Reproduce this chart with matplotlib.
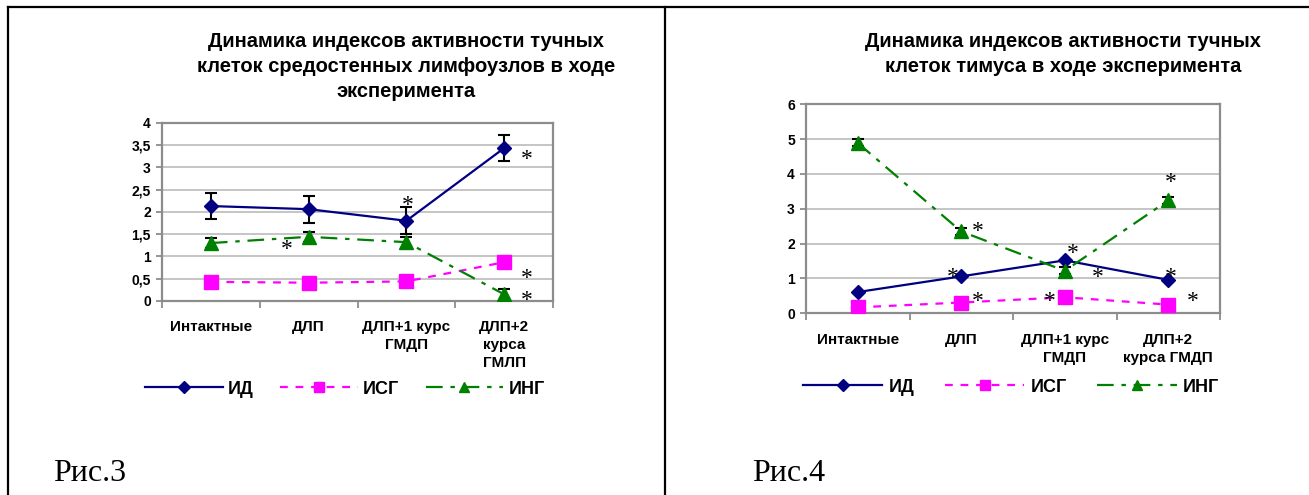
import matplotlib.pyplot as plt
from matplotlib.lines import Line2D
from matplotlib.ticker import FuncFormatter

plt.rcParams['font.family'] = ['Liberation Sans', 'DejaVu Sans']

# categories
groups_lymph = ['Интактные', 'ДЛП', 'ДЛП+1 курс\nГМДП', 'ДЛП+2\nкурса\nГМЛП']
groups_thymus = ['Интактные', 'ДЛП', 'ДЛП+1 курс\nГМДП', 'ДЛП+2\nкурса ГМДП']
series_names = ['ИД', 'ИСГ', 'ИНГ']

# Рис.3 - mediastinal lymph nodes
lymph_id = [2.13, 2.06, 1.80, 3.43]
lymph_id_err = [0.30, 0.30, 0.30, 0.30]
lymph_isg = [0.43, 0.41, 0.44, 0.87]
lymph_ing = [1.30, 1.44, 1.32, 0.15]
lymph_ing_err = [0.11, 0.11, 0.12, 0.12]

# Рис.4 - thymus
thymus_id = [0.61, 1.06, 1.52, 0.96]
thymus_isg = [0.17, 0.31, 0.46, 0.25]
thymus_ing = [4.89, 2.35, 1.22, 3.24]
thymus_ing_err = [0.10, 0.10, 0.10, 0.10]

# significance marks (category position, value)
stars_lymph = [(3.23, 3.34), (2.01, 2.29), (0.78, 1.32), (3.23, 0.67), (3.23, 0.16)]
stars_thymus = [(1.16, 2.54), (2.08, 1.91), (2.32, 1.22), (3.02, 3.97), (0.92, 1.22),
                (3.02, 1.24), (1.16, 0.53), (1.86, 0.53), (3.24, 0.53)]

NAVY = '#000080'
MAGENTA = '#FF00FF'
GREEN = '#008000'
GRID = '#c0c0c0'
SPINE = '#8c8c8c'

W, H = 1309, 495
fig = plt.figure(figsize=(W / 100, H / 100), dpi=100)


def px_rect(x0, y0, x1, y1):
    return [x0 / W, 1 - y1 / H, (x1 - x0) / W, (y1 - y0) / H]


def draw_chart(ax, groups, s_id, s_isg, s_ing, id_err, ing_err, ymax, ystep, stars):
    x = list(range(len(groups)))
    ax.set_xlim(-0.5, len(groups) - 0.5)
    ax.set_ylim(0, ymax)

    ax.set_yticks([i * ystep for i in range(int(round(ymax / ystep)) + 1)])
    ax.yaxis.set_major_formatter(FuncFormatter(lambda v, p: f'{v:g}'.replace('.', ',')))
    ax.grid(axis='y', color=GRID, lw=1.3)
    ax.set_axisbelow(True)

    ax.set_xticks(x)
    ax.set_xticklabels(groups, fontsize=11, fontweight='bold', linespacing=1.35)
    ax.set_xticks([i - 0.5 for i in range(len(groups) + 1)], minor=True)
    ax.tick_params(axis='x', which='major', length=0, pad=14)
    ax.tick_params(axis='x', which='minor', length=5, width=1.3, color=SPINE)
    ax.tick_params(axis='y', length=4, width=1.3, color=SPINE, pad=4, labelsize=10)
    for lbl in ax.get_yticklabels():
        lbl.set_fontweight('bold')
    for sp in ax.spines.values():
        sp.set_color(SPINE)
        sp.set_linewidth(1.6)

    if id_err is not None:
        ax.errorbar(x, s_id, yerr=id_err, fmt='none', ecolor='black', elinewidth=1.5,
                    capsize=4.5, capthick=1.5, zorder=3)
    ax.plot(x, s_id, color=NAVY, lw=1.6, marker='D', ms=7.5, label=series_names[0], zorder=4)
    ax.plot(x, s_isg, color=MAGENTA, lw=1.6, dashes=(3.5, 3.5), marker='s', ms=10.5,
            label=series_names[1], zorder=4)
    if ing_err is not None:
        ax.errorbar(x, s_ing, yerr=ing_err, fmt='none', ecolor='black', elinewidth=1.5,
                    capsize=4.5, capthick=1.5, zorder=3)
    ax.plot(x, s_ing, color=GREEN, lw=1.6, dashes=(7.5, 3.5, 2, 3.5), marker='^', ms=10.5,
            label=series_names[2], zorder=4)

    for sx, sy in stars:
        ax.annotate('*', (sx, sy), xytext=(0, -9), textcoords='offset points',
                    ha='center', va='baseline', fontsize=17, family='Liberation Serif',
                    zorder=5, annotation_clip=False)


ax1 = fig.add_axes(px_rect(162, 122.7, 553, 301))
draw_chart(ax1, groups_lymph, lymph_id, lymph_isg, lymph_ing, lymph_id_err, lymph_ing_err,
           4, 0.5, stars_lymph)
ax1.legend(loc='center left', bbox_to_anchor=(145 / W, 1 - 389 / H), bbox_transform=fig.transFigure,
           ncol=3, frameon=False, borderpad=0, borderaxespad=0, handlelength=4.3,
           handletextpad=0.3, columnspacing=1.45, markerscale=0.75,
           prop={'size': 13, 'weight': 'bold'})

ax2 = fig.add_axes(px_rect(806, 104.3, 1220, 313.3))
draw_chart(ax2, groups_thymus, thymus_id, thymus_isg, thymus_ing, None, thymus_ing_err,
           6, 1, stars_thymus)
ax2.legend(loc='center left', bbox_to_anchor=(803 / W, 1 - 387 / H), bbox_transform=fig.transFigure,
           ncol=3, frameon=False, borderpad=0, borderaxespad=0, handlelength=4.4,
           handletextpad=0.33, columnspacing=1.7, markerscale=0.75,
           prop={'size': 13, 'weight': 'bold'})

# titles (y is the baseline of the last line)
fig.text(406 / W, 1 - 97 / H,
         'Динамика индексов активности тучных\nклеток средостенных лимфоузлов в ходе\nэксперимента',
         ha='center', va='baseline', fontsize=14.5, fontweight='bold', linespacing=1.41)
fig.text(1063 / W, 1 - 72 / H,
         'Динамика индексов активности тучных\nклеток тимуса в ходе эксперимента',
         ha='center', va='baseline', fontsize=14.5, fontweight='bold', linespacing=1.41)

# figure captions
fig.text(53 / W, 1 - 481 / H, 'Рис.3', fontsize=23, family='Liberation Serif', va='baseline')
fig.text(752 / W, 1 - 481 / H, 'Рис.4', fontsize=23, family='Liberation Serif', va='baseline')

# table frame around the two cells
top = 1 - 7 / H
fig.add_artist(Line2D([7.5 / W, 1], [top, top], transform=fig.transFigure, color='black', lw=1.6))
fig.add_artist(Line2D([7.5 / W, 7.5 / W], [0, top], transform=fig.transFigure, color='black', lw=1.6))
fig.add_artist(Line2D([665 / W, 665 / W], [0, top], transform=fig.transFigure, color='black', lw=1.6))

fig.savefig('out.png', dpi=100)
